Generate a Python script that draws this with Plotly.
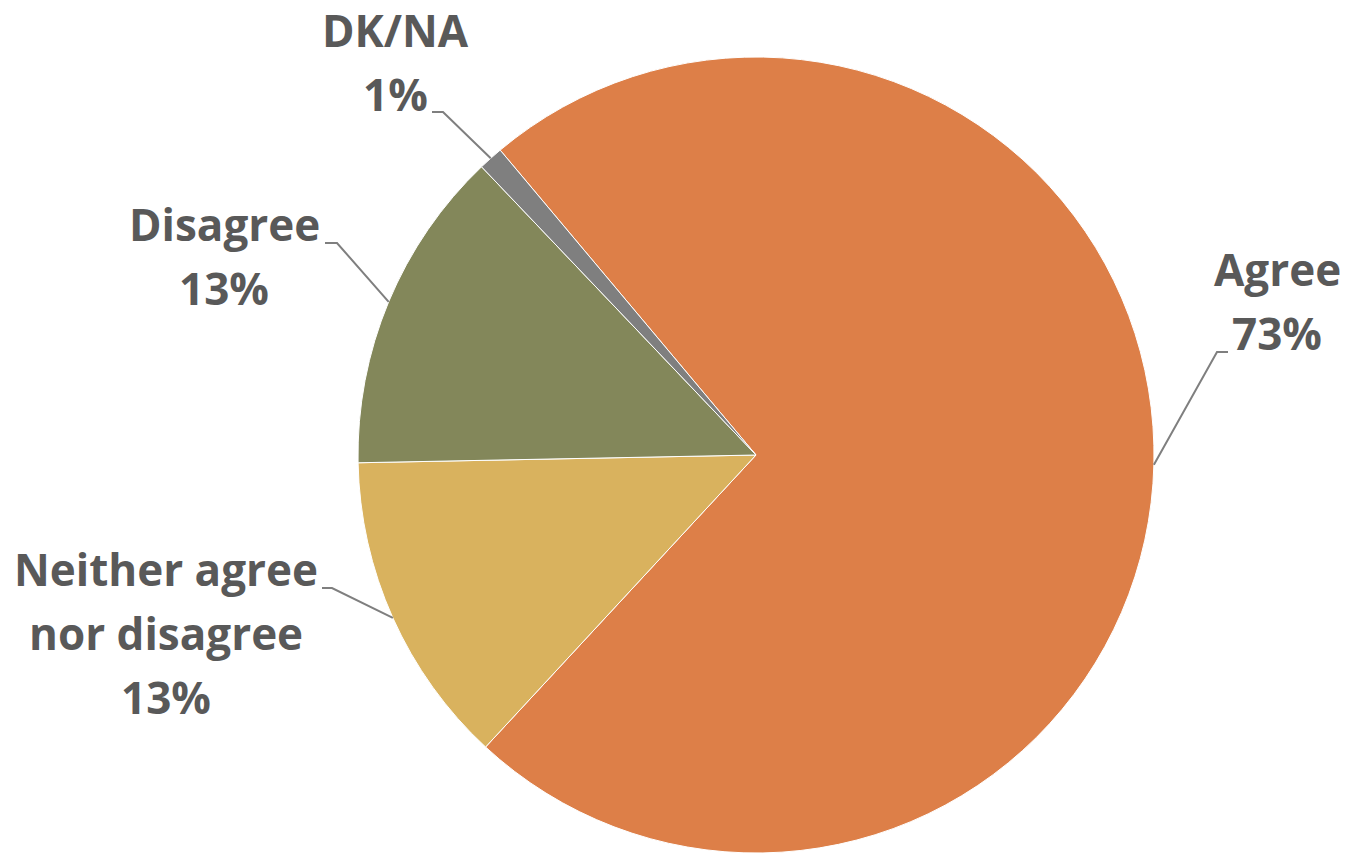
import math
import plotly.graph_objects as go

# ---- data ----
categories = ["Agree", "Neither agree<br>nor disagree", "Disagree", "DK/NA"]
values = [73.0, 12.8, 13.2, 1.0]
colors = ["#DD7F48", "#D9B25E", "#83875A", "#7F7F7F"]

# ---- geometry / style ----
W, H = 1347, 853
CX, CY, R = 756, 455, 398
ROTATION = -40  # degrees, first slice start (clockwise from 12 o'clock)
FONT = dict(family="Open Sans", size=44, color="#595959", weight="bold")
PITCH = 64
CAP_MID = 18

# label placement (pixels): center x, first baseline, leader knee and end
label_layout = [
    dict(cx=1277, base=287, knee=(1217, 352), end=(1228, 352)),
    dict(cx=166, base=587, knee=(332, 588), end=(322, 588)),
    dict(cx=224, base=242, knee=(337, 243), end=(325, 243)),
    dict(cx=395, base=48, knee=(443, 112), end=(432, 112)),
]


def px(x, y):
    return x / W, 1 - y / H


fig = go.Figure(
    go.Pie(
        labels=categories,
        values=values,
        sort=False,
        direction="clockwise",
        rotation=ROTATION,
        marker=dict(colors=colors, line=dict(color="white", width=1)),
        textinfo="none",
        hoverinfo="label+percent",
        domain=dict(x=[(CX - R) / W, (CX + R) / W], y=[1 - (CY + R) / H, 1 - (CY - R) / H]),
        showlegend=False,
    )
)

annotations = []
shapes = []
total = sum(values)
acc = 0.0
for cat, v, lay in zip(categories, values, label_layout):
    mid = ROTATION + (acc + v / 2) / total * 360
    acc += v
    a = math.radians(mid)
    ex, ey = CX + R * math.sin(a), CY - R * math.cos(a)
    lines = cat.split("<br>") + [f"{round(v / total * 100)}%"]
    for k, t in enumerate(lines):
        x, y = px(lay["cx"], lay["base"] + k * PITCH - CAP_MID)
        annotations.append(
            dict(text=t, x=x, y=y, xref="paper", yref="paper", xanchor="center",
                 yanchor="middle", showarrow=False, font=FONT, borderpad=0)
        )
    p0 = px(*lay["end"])
    p1 = px(*lay["knee"])
    p2 = px(ex, ey)
    shapes.append(
        dict(type="path", xref="paper", yref="paper",
             path=f"M {p0[0]} {p0[1]} L {p1[0]} {p1[1]} L {p2[0]} {p2[1]}",
             line=dict(color="#7F7F7F", width=2))
    )

fig.update_layout(
    width=W, height=H,
    margin=dict(l=0, r=0, t=0, b=0),
    paper_bgcolor="white",
    plot_bgcolor="white",
    annotations=annotations,
    shapes=shapes,
)

fig.write_html("out.html", config={"displayModeBar": False},
               post_script="document.body.style.margin='0';")
